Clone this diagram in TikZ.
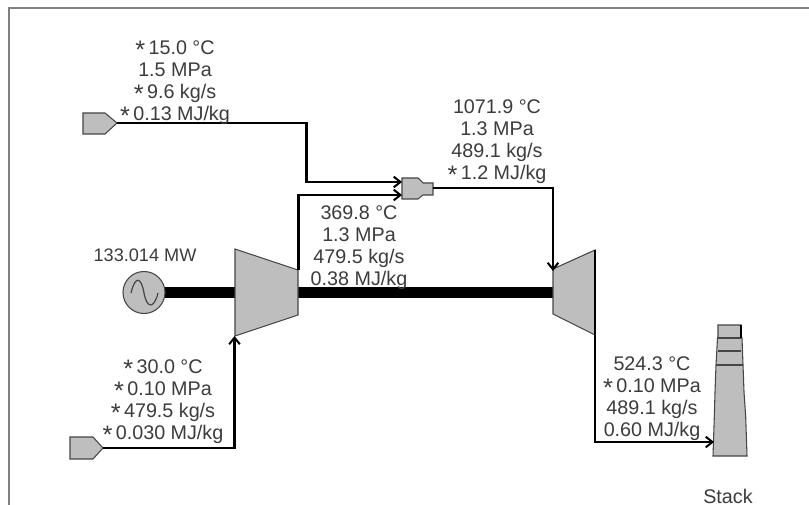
\documentclass[tikz,border=0pt]{standalone}
\usepackage{fontspec}
\setmainfont{Liberation Sans}
\usetikzlibrary{arrows.meta}
\definecolor{eqfill}{RGB}{190,190,190}
\definecolor{eqline}{RGB}{70,70,70}
\definecolor{txt}{RGB}{60,60,60}
\definecolor{framegray}{RGB}{128,128,128}
\newcommand{\mystar}{\raisebox{-3pt}{\fontsize{19pt}{19pt}\selectfont *}\hspace{2.5pt}}
\tikzset{
  x=0.75pt,y=-0.75pt,
  equip/.style={draw=eqline,fill=eqfill,line width=0.8pt},
  pipe/.style={draw=black,line width=2.1pt,-{Straight Barb[length=5pt,width=8pt,line width=1.5pt]}},
  shaft/.style={draw=black,line width=8.2pt},
  lab/.style={font=\fontsize{14.8pt}{16.5pt}\selectfont,text=txt,align=center,inner sep=0pt,anchor=center},
  labsmall/.style={font=\fontsize{13.6pt}{16.5pt}\selectfont,text=txt,inner sep=0pt,anchor=center},
  frameline/.style={draw=framegray,line width=1.5pt},
  innerline/.style={draw=eqline,line width=0.8pt},
}
\begin{document}
\begin{tikzpicture}
\useasboundingbox (0,0) rectangle (809,505);
\fill[white] (0,0) rectangle (809,505);
\draw[frameline] (9,505) -- (9,8) -- (809,8);
% anchors
\coordinate (gc) at (144,292.5);
\coordinate (tl) at (553,292.5);
\coordinate (compin) at (234.5,336);
\coordinate (compout) at (298.5,270);
\coordinate (turbin) at (553,271);
\coordinate (turbout) at (595,250);
\coordinate (fuel) at (117,123);
\coordinate (air) at (103,448);
\coordinate (cin1) at (402,182);
\coordinate (cin2) at (402,195);
\coordinate (cout) at (433,188);
\coordinate (stackin) at (714,442);
% shaft
\draw[shaft] (gc) -- (tl);
% generator
\node[equip,circle,minimum size=31.5pt,inner sep=0pt] (gen) at (gc) {};
\draw[eqline,line width=0.9pt] (131,293) .. controls (135,276) and (141,276) .. (144,293) .. controls (147,309) and (154,309) .. (158,293);
% compressor
\draw[equip] (235,249) -- (298,270) -- (298,315) -- (235,336) -- cycle;
% turbine
\draw[equip] (553,269) -- (595,250) -- (595,335) -- (553,314) -- cycle;
% sources
\draw[equip] (83,113) -- (105,113) -- (117,123) -- (105,134) -- (83,134) -- cycle;
\draw[equip] (70,437) -- (93,437) -- (103,448) -- (93,459) -- (70,459) -- cycle;
% combustor
\draw[equip] (402,178) -- (418,178) -- (423,183) -- (433,183) -- (433,195) -- (423,195) -- (418,199) -- (402,199) -- cycle;
% stack
\draw[equip] (713,456) -- (714.3,417) -- (715,392) -- (716,365) -- (717.5,338) -- (718,338) -- (718,325) -- (741,325) -- (741,338) -- (742,338) -- (743,365) -- (744,392) -- (745.7,417) -- (747,456) -- cycle;
\draw[innerline] (718,338) -- (741,338);
\draw[innerline] (718,351) -- (741,351);
\draw[innerline] (716,365) -- (743,365);
\draw[black,line width=1pt] (741,325) -- (741,338);
% pipes
\draw[pipe] (fuel) -- (306.5,123) -- (306.5,182) -- (cin1);
\draw[pipe] (compout) -- (298.5,195) -- (cin2);
\draw[pipe] (cout) -- (553,188) -- (turbin);
\draw[pipe] (air) -- (234.5,448) -- (compin);
\draw[pipe] (turbout) -- (595,442) -- (stackin);
% labels
\node[lab] (l1) at (175,83) {\mystar 15.0 °C\\1.5 MPa\\\mystar 9.6 kg/s\\\mystar 0.13 MJ/kg};
\node[lab] (l2) at (497,142) {1071.9 °C\\1.3 MPa\\489.1 kg/s\\\mystar 1.2 MJ/kg};
\node[lab] (l3) at (359,248) {369.8 °C\\1.3 MPa\\479.5 kg/s\\0.38 MJ/kg};
\node[labsmall] (l4) at (145,255) {133.014 MW};
\node[lab] (l5) at (163,401.5) {\mystar 30.0 °C\\\mystar 0.10 MPa\\\mystar 479.5 kg/s\\\mystar 0.030 MJ/kg};
\node[lab] (l6) at (652,399) {524.3 °C\\\mystar 0.10 MPa\\489.1 kg/s\\0.60 MJ/kg};
\node[lab] (l7) at (728,496.5) {Stack};
\end{tikzpicture}
\end{document}
